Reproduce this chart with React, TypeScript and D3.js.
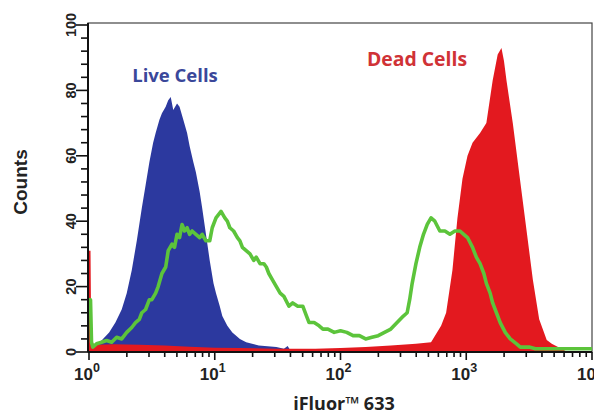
import React, { useRef, useEffect } from "react";
import * as d3 from "d3";

// fluorescence intensity (log channel exponent) and counts
const liveLog = [0.0, 0.02, 0.05, 0.1, 0.16, 0.21, 0.26, 0.3, 0.34, 0.38, 0.42, 0.45, 0.48, 0.51, 0.53, 0.56, 0.58, 0.61, 0.63, 0.65, 0.67, 0.7, 0.72, 0.75, 0.78, 0.8, 0.83, 0.85, 0.88, 0.9, 0.93, 0.96, 0.99, 1.01, 1.04, 1.06, 1.1, 1.14, 1.2, 1.25, 1.35, 1.49, 1.55, 1.58, 1.6, 1.7];
const liveCounts = [0, 0.5, 2, 3.5, 6, 9, 13, 18, 25, 34, 44, 51, 58, 64, 67, 71, 73, 75, 77, 78, 74, 76, 75, 71, 67, 63, 58, 55, 49, 44, 36, 28, 21, 18, 14, 11, 8, 6, 4, 3, 2, 1.5, 1, 1.8, 0.5, 0];

const deadLog = [0.0, 0.012, 0.018, 0.05, 0.2, 0.4, 0.6, 0.8, 1.0, 1.2, 1.5, 1.8, 2.0, 2.2, 2.4, 2.6, 2.72, 2.8, 2.84, 2.89, 2.93, 2.97, 3.01, 3.05, 3.11, 3.16, 3.21, 3.25, 3.28, 3.3, 3.32, 3.37, 3.42, 3.48, 3.53, 3.58, 3.64, 3.68, 3.73, 3.78, 3.8];
const deadCounts = [31, 31, 3, 2.2, 2.4, 2.2, 2, 1.6, 1.3, 1.2, 1, 1, 1.2, 1.5, 2, 2.5, 3, 8, 12, 25, 41, 53, 60, 64, 67, 70, 83, 91, 93, 89, 83, 70, 55, 37, 22, 10, 3.7, 2.5, 1.5, 0.5, 0];

const stainedLog = [0.0, 0.012, 0.02, 0.03, 0.06, 0.1, 0.14, 0.18, 0.22, 0.26, 0.3, 0.34, 0.37, 0.4, 0.42, 0.45, 0.48, 0.5, 0.53, 0.55, 0.58, 0.61, 0.63, 0.66, 0.68, 0.7, 0.72, 0.74, 0.76, 0.78, 0.8, 0.82, 0.85, 0.88, 0.9, 0.93, 0.96, 0.98, 1.01, 1.03, 1.05, 1.08, 1.1, 1.12, 1.15, 1.18, 1.2, 1.22, 1.25, 1.28, 1.31, 1.33, 1.36, 1.39, 1.41, 1.43, 1.46, 1.49, 1.52, 1.55, 1.59, 1.62, 1.66, 1.7, 1.73, 1.75, 1.79, 1.83, 1.86, 1.9, 1.95, 2.0, 2.05, 2.1, 2.15, 2.2, 2.25, 2.3, 2.35, 2.4, 2.45, 2.5, 2.53, 2.55, 2.57, 2.6, 2.63, 2.66, 2.69, 2.72, 2.75, 2.79, 2.83, 2.87, 2.91, 2.95, 2.98, 3.01, 3.05, 3.08, 3.11, 3.14, 3.16, 3.19, 3.21, 3.24, 3.27, 3.31, 3.35, 3.4, 3.43, 3.5, 3.55, 4.0];
const stainedCounts = [16, 16, 3, 1.5, 2.5, 3, 3.5, 3, 4.5, 4, 6, 7.5, 9, 10, 12, 13, 16, 16, 18, 20, 24, 26, 31, 33, 32, 36, 35, 39, 37, 38, 36, 37, 36, 35, 36, 34, 34, 38, 41, 42, 43, 41, 40, 38, 37, 35, 34, 32, 31, 30, 28, 29, 27, 27, 26, 24, 22, 20, 18, 17, 14, 15, 14, 14, 11, 9, 9, 8, 7, 7, 6, 6.5, 6, 5, 5, 4, 4.5, 5, 6, 7, 9, 11, 12, 16, 21, 27, 32, 36, 39, 41, 40, 37, 37, 36, 37, 37, 36, 35, 32, 29, 27, 24, 21, 18, 15, 12, 9, 6, 4, 2.5, 1.5, 1.5, 1, 1];

const xMajorTicks = [1, 10, 100, 1000, 10000];
const xTickExponents = ["0", "1", "2", "3", "4"];
const yMajorTicks = [0, 20, 40, 60, 80, 100];

const toPoints = (logs: number[], counts: number[]) =>
    logs.map((l, i) => ({ x: Math.pow(10, l), y: counts[i] }));

const FlowHistogram = () => {
    const ref = useRef<SVGSVGElement | null>(null);

    useEffect(() => {
        const width = 594;
        const height = 416;
        const left = 88;
        const right = 592;
        const top = 23;
        const bottom = 352;

        const svg = d3.select(ref.current);
        svg.selectAll("*").remove();

        const x = d3.scaleLog().domain([1, 10000]).range([89, 592]);
        const y = d3.scaleLinear().domain([0, 100]).range([bottom, 25]);

        const area = d3.area<{ x: number; y: number }>()
            .x((d) => x(d.x))
            .y0(bottom)
            .y1((d) => y(d.y));
        const line = d3.line<{ x: number; y: number }>()
            .x((d) => x(d.x))
            .y((d) => y(d.y));

        svg.append("rect")
            .attr("width", width)
            .attr("height", height)
            .attr("fill", "#fff");

        // frame
        svg.append("rect")
            .attr("x", left)
            .attr("y", top)
            .attr("width", right - left)
            .attr("height", bottom - top)
            .attr("fill", "none")
            .attr("stroke", "#444")
            .attr("stroke-width", 1.2);

        svg.append("path")
            .attr("d", area(toPoints(liveLog, liveCounts)) as string)
            .attr("fill", "#2c399f");
        svg.append("path")
            .attr("d", area(toPoints(deadLog, deadCounts)) as string)
            .attr("fill", "#e3191f");
        svg.append("path")
            .attr("d", line(toPoints(stainedLog, stainedCounts)) as string)
            .attr("fill", "none")
            .attr("stroke", "#5cc43b")
            .attr("stroke-width", 3.6)
            .attr("stroke-linejoin", "round");

        // axes lines
        svg.append("line")
            .attr("x1", left).attr("x2", right)
            .attr("y1", bottom).attr("y2", bottom)
            .attr("stroke", "#111").attr("stroke-width", 2);
        svg.append("line")
            .attr("x1", left).attr("x2", left)
            .attr("y1", top).attr("y2", bottom)
            .attr("stroke", "#111").attr("stroke-width", 2);

        // x ticks
        const xTicks = x.ticks();
        svg.append("g")
            .selectAll("line")
            .data(xTicks)
            .enter()
            .append("line")
            .attr("x1", (d) => x(d))
            .attr("x2", (d) => x(d))
            .attr("y1", bottom)
            .attr("y2", (d) => bottom + (xMajorTicks.includes(d) ? 8 : 5))
            .attr("stroke", "#111")
            .attr("stroke-width", 1.6);

        const xl = svg.append("g")
            .selectAll("text")
            .data(xMajorTicks)
            .enter()
            .append("text")
            .attr("x", (d) => x(d) - 2)
            .attr("y", 380)
            .attr("text-anchor", "middle")
            .attr("font-family", "Liberation Sans, Arial, sans-serif")
            .attr("font-weight", "bold")
            .attr("font-size", 17)
            .attr("fill", "#222");
        xl.append("tspan").text("10");
        xl.append("tspan")
            .attr("dy", -8)
            .attr("font-size", 12.5)
            .text((d, i) => xTickExponents[i]);

        // y ticks
        svg.append("g")
            .selectAll("line")
            .data(d3.range(0, 101, 4))
            .enter()
            .append("line")
            .attr("x1", left)
            .attr("x2", (d) => left - (d % 20 === 0 ? 12 : 7))
            .attr("y1", (d) => y(d))
            .attr("y2", (d) => y(d))
            .attr("stroke", "#111")
            .attr("stroke-width", 1.6);

        svg.append("g")
            .selectAll("text")
            .data(yMajorTicks)
            .enter()
            .append("text")
            .attr("transform", (d) => `translate(76,${y(d)}) rotate(-90)`)
            .attr("text-anchor", "middle")
            .attr("font-family", "Liberation Sans, Arial, sans-serif")
            .attr("font-weight", "bold")
            .attr("font-size", 14.5)
            .attr("fill", "#222")
            .text((d) => d);

        svg.append("text")
            .attr("transform", "translate(27,182) rotate(-90)")
            .attr("text-anchor", "middle")
            .attr("font-family", "Liberation Sans, Arial, sans-serif")
            .attr("font-weight", "bold")
            .attr("font-size", 19)
            .attr("fill", "#222")
            .text("Counts");

        svg.append("text")
            .attr("x", 344)
            .attr("y", 410)
            .attr("text-anchor", "middle")
            .attr("font-family", "Open Sans, sans-serif")
            .attr("font-weight", "bold")
            .attr("font-size", 18)
            .attr("fill", "#222")
            .text("iFluor™ 633");

        svg.append("text")
            .attr("x", 175)
            .attr("y", 82)
            .attr("text-anchor", "middle")
            .attr("font-family", "Open Sans, sans-serif")
            .attr("font-weight", "bold")
            .attr("font-size", 18.5)
            .attr("fill", "#3a479a")
            .text("Live Cells");

        svg.append("text")
            .attr("x", 417)
            .attr("y", 66)
            .attr("text-anchor", "middle")
            .attr("font-family", "Open Sans, sans-serif")
            .attr("font-weight", "bold")
            .attr("font-size", 19.4)
            .attr("fill", "#d03236")
            .text("Dead Cells");
    }, []);

    return (
        <svg
            ref={ref}
            width={594}
            height={416}
            viewBox="0 0 594 416"
            style={{ position: "absolute", left: 0, top: 0 }}
        />
    );
};

export default function App() {
    return <FlowHistogram />;
}
